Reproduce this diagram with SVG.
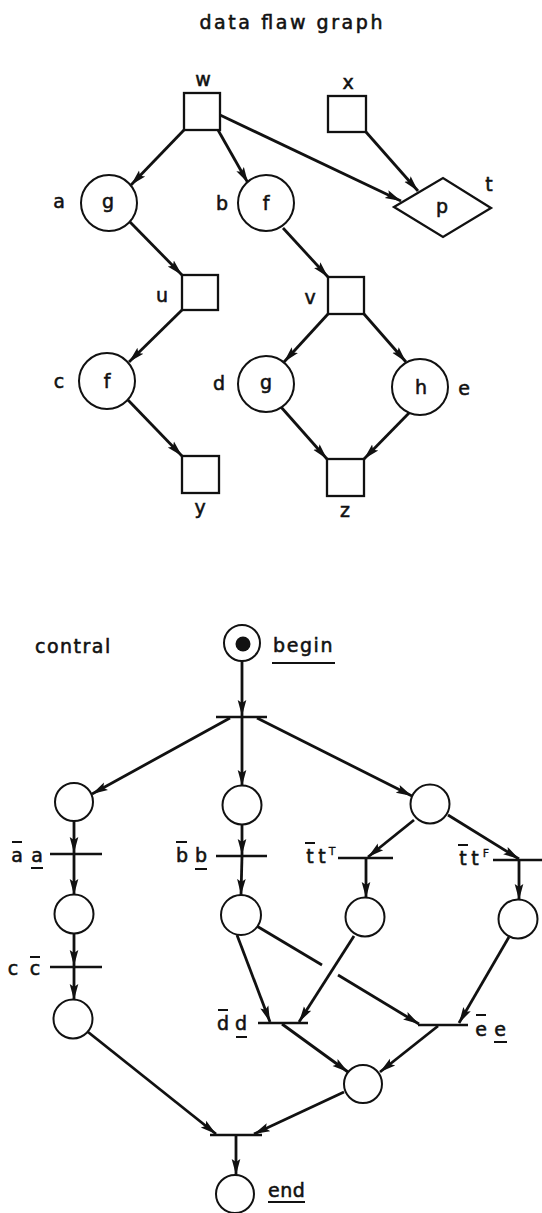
<svg xmlns="http://www.w3.org/2000/svg" width="542" height="1213" viewBox="0 0 542 1213">
<style>
  .bg{fill:#fff}
  .box{fill:#fff;stroke:#111;stroke-width:2.3}
  .circ{fill:#fff;stroke:#111;stroke-width:2}
  .bar{stroke:#111;stroke-width:2.4;fill:none}
  .edge{stroke:#111;stroke-width:2.8;fill:none;marker-end:url(#ah)}
  .plain{stroke:#111;stroke-width:2.8;fill:none}
  .deco{stroke:#111;stroke-width:2;fill:none}
  text{font-family:"DejaVu Sans","Liberation Sans",sans-serif;fill:#111;stroke:#111;stroke-width:0.55}
  .lbl{font-size:19px;text-anchor:middle}
  .ctl{font-size:19px;text-anchor:middle}
  .sup{font-size:11px;text-anchor:middle;stroke-width:0.3}
</style>
<defs>
  <marker id="ah" markerUnits="userSpaceOnUse" markerWidth="17" markerHeight="11" refX="16" refY="5.5" orient="auto">
    <path d="M0,1.2 L16,5.5 L0,9.8 L3,5.5 Z" fill="#111"/>
  </marker>
</defs>
<rect class="bg" x="0" y="0" width="542" height="1213"/>

<text x="291" y="29" font-size="19" text-anchor="middle" textLength="183" lengthAdjust="spacing">data flaw graph</text>

<g id="connectors">
  <!-- data flow -->
  <line class="edge" x1="184" y1="130" x2="131" y2="185"/>
  <line class="edge" x1="218" y1="130" x2="248" y2="183"/>
  <line class="edge" x1="220" y1="115" x2="401" y2="201"/>
  <line class="edge" x1="366" y1="132" x2="418" y2="191"/>
  <line class="edge" x1="130" y1="222" x2="182" y2="275"/>
  <line class="edge" x1="283" y1="228" x2="328" y2="277"/>
  <line class="edge" x1="182" y1="310" x2="129" y2="362"/>
  <line class="edge" x1="128" y1="400" x2="182" y2="456"/>
  <line class="edge" x1="328" y1="314" x2="284" y2="362"/>
  <line class="edge" x1="364" y1="314" x2="406" y2="362"/>
  <line class="edge" x1="281" y1="407" x2="327" y2="459"/>
  <line class="edge" x1="410" y1="412" x2="364" y2="459"/>
  <!-- control -->
  <line class="edge" x1="242" y1="661" x2="242" y2="716"/>
  <line class="edge" x1="230" y1="718" x2="92" y2="794"/>
  <line class="edge" x1="242" y1="717" x2="242" y2="786"/>
  <line class="edge" x1="257" y1="718" x2="412" y2="796"/>
  <line class="edge" x1="74" y1="821" x2="74" y2="853"/>
  <line class="edge" x1="74" y1="854" x2="74" y2="895"/>
  <line class="edge" x1="74" y1="933" x2="74" y2="966"/>
  <line class="edge" x1="74" y1="967" x2="74" y2="1000"/>
  <line class="edge" x1="242" y1="825" x2="242" y2="855"/>
  <line class="edge" x1="242" y1="856" x2="241" y2="895"/>
  <line class="edge" x1="414" y1="820" x2="368" y2="857"/>
  <line class="edge" x1="366" y1="858" x2="366" y2="898"/>
  <line class="edge" x1="448" y1="815" x2="519" y2="859"/>
  <line class="edge" x1="519" y1="860" x2="519" y2="900"/>
  <line class="edge" x1="237" y1="935" x2="270" y2="1022"/>
  <line class="edge" x1="354" y1="936" x2="299" y2="1022"/>
  <line class="plain" x1="255" y1="925" x2="322" y2="965"/>
  <line class="edge" x1="338" y1="975" x2="419" y2="1024"/>
  <line class="edge" x1="509" y1="937" x2="459" y2="1023"/>
  <line class="edge" x1="282" y1="1024" x2="348" y2="1072"/>
  <line class="edge" x1="438" y1="1026" x2="380" y2="1072"/>
  <line class="edge" x1="344" y1="1092" x2="254" y2="1134"/>
  <line class="edge" x1="88" y1="1032" x2="216" y2="1134"/>
  <line class="edge" x1="236" y1="1135" x2="236" y2="1175"/>
</g>

<!-- data flow nodes -->
<g id="node-w"><rect class="box" x="184" y="93" width="36" height="37"/><text class="lbl" x="203" y="86">w</text></g>
<g id="node-x"><rect class="box" x="328" y="96" width="38" height="36"/><text class="lbl" x="348" y="89">x</text></g>
<g id="node-a"><circle class="circ" cx="109" cy="203" r="28"/><text class="lbl" x="108" y="208">g</text><text class="lbl" x="59" y="208">a</text></g>
<g id="node-b"><circle class="circ" cx="266" cy="203" r="28"/><text class="lbl" x="266" y="210">f</text><text class="lbl" x="222" y="210">b</text></g>
<g id="node-t"><path class="box" d="M394,207 L443,178 L491,208 L443,237 Z"/><text class="lbl" x="442" y="213">p</text><text class="lbl" x="489" y="191">t</text></g>
<g id="node-u"><rect class="box" x="182" y="275" width="36" height="35"/><text class="lbl" x="162" y="302">u</text></g>
<g id="node-v"><rect class="box" x="328" y="277" width="36" height="37"/><text class="lbl" x="310" y="304">v</text></g>
<g id="node-c"><circle class="circ" cx="107" cy="381" r="28"/><text class="lbl" x="107" y="388">f</text><text class="lbl" x="59" y="388">c</text></g>
<g id="node-d"><circle class="circ" cx="266" cy="384" r="28"/><text class="lbl" x="266" y="389">g</text><text class="lbl" x="219" y="390">d</text></g>
<g id="node-e"><circle class="circ" cx="420" cy="387" r="28"/><text class="lbl" x="421" y="394">h</text><text class="lbl" x="464" y="395">e</text></g>
<g id="node-y"><rect class="box" x="182" y="456" width="37" height="37"/><text class="lbl" x="200" y="514">y</text></g>
<g id="node-z"><rect class="box" x="327" y="459" width="37" height="37"/><text class="lbl" x="345" y="517">z</text></g>

<!-- control -->
<text x="35" y="653" font-size="19" letter-spacing="1.5">contral</text>
<g id="place-begin"><circle class="circ" cx="242" cy="643" r="18"/><circle cx="243" cy="644" r="7.5" fill="#111"/>
  <text x="273" y="652" font-size="19" letter-spacing="1.6">begin</text><line class="deco" x1="272" y1="663" x2="335" y2="663"/></g>
<g id="trans-fork"><line class="bar" x1="216" y1="717" x2="267" y2="717"/></g>
<g id="place-p1"><circle class="circ" cx="74" cy="802" r="19"/></g>
<g id="place-p2"><circle class="circ" cx="242" cy="805" r="19.5"/></g>
<g id="place-p3"><circle class="circ" cx="430" cy="804" r="19.5"/></g>
<g id="trans-a"><line class="bar" x1="50" y1="854" x2="102" y2="854"/>
  <text class="ctl" y="862"><tspan x="17">a</tspan><tspan x="37">a</tspan></text>
  <line class="deco" x1="12" y1="842" x2="22" y2="842"/><line class="deco" x1="31" y1="868" x2="43" y2="868"/></g>
<g id="trans-b"><line class="bar" x1="216" y1="856" x2="267" y2="856"/>
  <text class="ctl" y="862"><tspan x="182">b</tspan><tspan x="201">b</tspan></text>
  <line class="deco" x1="176" y1="842" x2="187" y2="842"/><line class="deco" x1="195" y1="869" x2="207" y2="869"/></g>
<g id="trans-tT"><line class="bar" x1="338" y1="858" x2="393" y2="858"/>
  <text class="ctl" y="863"><tspan x="310">t</tspan><tspan x="322">t</tspan></text><text class="sup" x="332" y="855">T</text>
  <line class="deco" x1="305" y1="843" x2="315" y2="843"/></g>
<g id="trans-tF"><line class="bar" x1="493" y1="860" x2="542" y2="860"/>
  <text class="ctl" y="865"><tspan x="463">t</tspan><tspan x="475">t</tspan></text><text class="sup" x="486" y="857">F</text>
  <line class="deco" x1="458" y1="845" x2="468" y2="845"/></g>
<g id="place-p4"><circle class="circ" cx="74" cy="914" r="19.5"/></g>
<g id="place-p6"><circle class="circ" cx="241" cy="915" r="20"/></g>
<g id="place-p7"><circle class="circ" cx="365" cy="917" r="19.5"/></g>
<g id="place-p8"><circle class="circ" cx="518" cy="919" r="19.5"/></g>
<g id="trans-c"><line class="bar" x1="50" y1="967" x2="102" y2="967"/>
  <text class="ctl" y="975"><tspan x="13">c</tspan><tspan x="35">c</tspan></text>
  <line class="deco" x1="30" y1="957" x2="40" y2="957"/></g>
<g id="place-p5"><circle class="circ" cx="73" cy="1019" r="19.5"/></g>
<g id="trans-d"><line class="bar" x1="258" y1="1023" x2="308" y2="1023"/>
  <text class="ctl" y="1030"><tspan x="223">d</tspan><tspan x="241">d</tspan></text>
  <line class="deco" x1="218" y1="1010" x2="228" y2="1010"/><line class="deco" x1="236" y1="1037" x2="247" y2="1037"/></g>
<g id="trans-e"><line class="bar" x1="418" y1="1025" x2="468" y2="1025"/>
  <text class="ctl" y="1036"><tspan x="481">e</tspan><tspan x="500">e</tspan></text>
  <line class="deco" x1="476" y1="1015" x2="486" y2="1015"/><line class="deco" x1="494" y1="1042" x2="507" y2="1042"/></g>
<g id="place-p9"><circle class="circ" cx="363" cy="1084" r="19"/></g>
<g id="trans-end"><line class="bar" x1="210" y1="1135" x2="262" y2="1135"/></g>
<g id="place-end"><circle class="circ" cx="235" cy="1194" r="19"/>
  <text x="268" y="1197" font-size="19" letter-spacing="0.5">end</text><line class="deco" x1="268" y1="1202" x2="305" y2="1202"/></g>
</svg>
